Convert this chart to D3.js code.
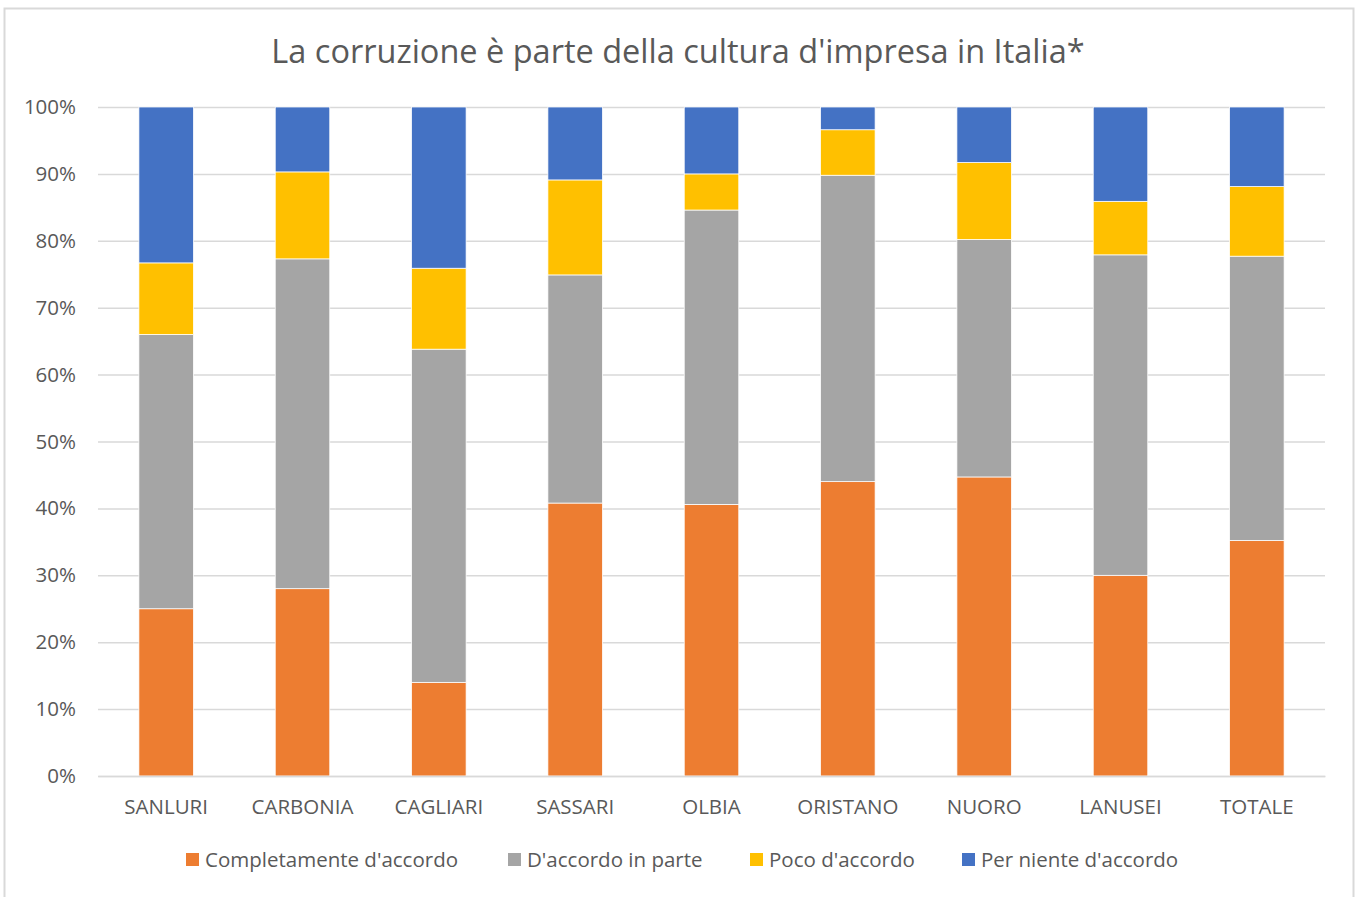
<!DOCTYPE html>
<html>
<head>
  <title>La corruzione</title>
  <script src="https://d3js.org/d3.v7.min.js"></script>
  <style>
    body { margin: 0; background: #fff; }
    text { font-family: "Open Sans", "Noto Sans", sans-serif; fill: #595959; }
    .gridlines line { stroke: #d9d9d9; stroke-width: 1.5; }
    .gridlines .domain { stroke: none; }
    .xaxis .domain { stroke: #d9d9d9; stroke-width: 1.5; }
    .xaxis line { stroke: none; }
  </style>
</head>
<body>
<svg id="chart" width="1355" height="897"></svg>
<script>
  // dati
  const categories = ["SANLURI", "CARBONIA", "CAGLIARI", "SASSARI", "OLBIA", "ORISTANO", "NUORO", "LANUSEI", "TOTALE"];
  const seriesNames = ["Completamente d'accordo", "D'accordo in parte", "Poco d'accordo", "Per niente d'accordo"];
  const completamente = [25.0, 28.0, 14.0, 40.8, 40.6, 44.0, 44.7, 30.0, 35.2];
  const inParte = [41.0, 49.3, 49.8, 34.1, 44.0, 45.8, 35.5, 47.9, 42.5];
  const poco = [10.7, 13.0, 12.1, 14.2, 5.4, 6.8, 11.5, 8.0, 10.4];
  const perNiente = [23.3, 9.7, 24.1, 10.9, 10.0, 3.4, 8.3, 14.1, 11.9];
  const yTicks = [0, 10, 20, 30, 40, 50, 60, 70, 80, 90, 100];
  const colors = ["#ED7D31", "#A5A5A5", "#FFC000", "#4472C4"];

  let svg = d3.select("#chart");
  let margin = {top: 107, left: 98};
  let chartWidth = 1227;
  let chartHeight = 669;
  let fontSize = "20.5px";

  // bordo del grafico
  svg.append("rect")
    .attr("x", 4.5).attr("y", 8.5)
    .attr("width", 1349).attr("height", 900)
    .attr("fill", "none")
    .attr("stroke", "#d9d9d9")
    .attr("stroke-width", 2);

  svg.append("text")
    .attr("x", 678).attr("y", 52)
    .attr("dy", "0.35em")
    .attr("text-anchor", "middle")
    .style("font-size", "32.5px")
    .text("La corruzione è parte della cultura d'impresa in Italia*");

  // tabella per lo stack
  const table = categories.map((c, i) => ({
    cat: c,
    [seriesNames[0]]: completamente[i],
    [seriesNames[1]]: inParte[i],
    [seriesNames[2]]: poco[i],
    [seriesNames[3]]: perNiente[i]
  }));
  const stacked = d3.stack().keys(seriesNames)(table);

  let xScale = d3.scaleBand().domain(categories).range([0, chartWidth]).paddingInner(0.6).paddingOuter(0.3);
  let yScale = d3.scaleLinear().domain([0, 100]).range([chartHeight, 0]);
  let color = d3.scaleOrdinal().domain(seriesNames).range(colors);

  let chart = svg.append("g").attr("transform", `translate(${margin.left}, ${margin.top})`);

  chart.append("g")
    .attr("class", "gridlines")
    .call(d3.axisLeft(yScale).tickValues(yTicks).tickSize(-chartWidth).tickFormat(""));

  chart.append("g")
    .call(d3.axisLeft(yScale).tickValues(yTicks).tickSize(0).tickPadding(22).tickFormat(d => d + "%"))
    .call(g => g.select(".domain").remove())
    .selectAll("text")
    .style("font-size", fontSize);

  chart.selectAll(".serie")
    .data(stacked)
    .enter()
    .append("g")
    .attr("class", "serie")
    .attr("fill", d => color(d.key))
    .selectAll("rect")
    .data(d => d)
    .enter()
    .append("rect")
    .attr("x", d => xScale(d.data.cat))
    .attr("y", d => yScale(d[1]))
    .attr("width", xScale.bandwidth())
    .attr("height", d => yScale(d[0]) - yScale(d[1]))
    .attr("stroke", "#fff")
    .attr("stroke-width", 0.75);

  chart.append("g")
    .attr("class", "xaxis")
    .attr("transform", `translate(0, ${chartHeight})`)
    .call(d3.axisBottom(xScale).tickSize(0).tickPadding(23).tickSizeOuter(0))
    .selectAll("text")
    .style("font-size", fontSize);

  // legenda
  const legendX = [186, 508, 750, 962];
  let legend = svg.append("g").attr("transform", "translate(0, 860)");
  seriesNames.forEach((s, i) => {
    legend.append("rect")
      .attr("x", legendX[i]).attr("y", -7)
      .attr("width", 13).attr("height", 13)
      .attr("fill", colors[i]);
    legend.append("text")
      .attr("x", legendX[i] + 19).attr("y", 0)
      .attr("dy", "0.35em")
      .style("font-size", fontSize)
      .text(s);
  });
</script>
</body>
</html>
